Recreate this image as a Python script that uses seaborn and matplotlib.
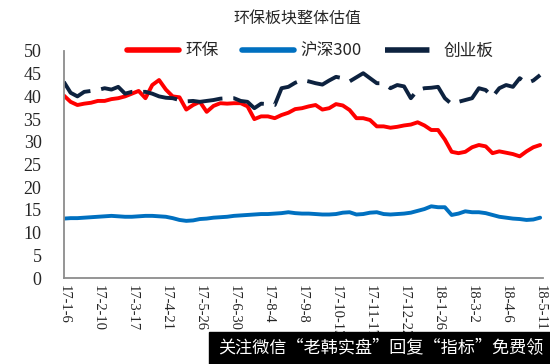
import matplotlib
matplotlib.use("Agg")
import matplotlib.pyplot as plt
from matplotlib.patches import Rectangle
import numpy as np
import pandas as pd
import seaborn as sns

# weekly observations, 2017-01-06 .. 2018-05-11
dates = pd.date_range("2017-01-06", periods=71, freq="7D")

huanbao = [
    40.2, 38.8, 38.1, 38.4, 38.6, 39.0, 39.0, 39.4, 39.6, 40.0,
    40.6, 41.2, 39.6, 42.5, 43.6, 41.5, 40.0, 39.8, 37.1, 38.1,
    38.8, 36.6, 37.9, 38.5, 38.4, 38.5, 38.5, 37.8, 35.0, 35.6,
    35.6, 35.2, 35.9, 36.4, 37.2, 37.4, 37.8, 38.1, 37.1, 37.4,
    38.3, 38.0, 37.0, 35.2, 35.2, 34.8, 33.4, 33.4, 33.1, 33.3,
    33.6, 33.8, 34.3, 33.6, 32.6, 32.6, 30.5, 27.8, 27.5, 27.8,
    28.8, 29.3, 29.0, 27.5, 27.9, 27.6, 27.3, 26.8, 27.9, 28.8,
    29.3,
]
hs300 = [
    13.1, 13.2, 13.2, 13.3, 13.4, 13.5, 13.6, 13.7, 13.6, 13.5,
    13.5, 13.6, 13.7, 13.7, 13.6, 13.5, 13.2, 12.8, 12.6, 12.7,
    13.0, 13.1, 13.3, 13.4, 13.5, 13.7, 13.8, 13.9, 14.0, 14.1,
    14.1, 14.2, 14.3, 14.5, 14.3, 14.2, 14.2, 14.1, 14.0, 14.0,
    14.1, 14.4, 14.5, 14.0, 14.1, 14.4, 14.5, 14.1, 14.0, 14.1,
    14.2, 14.4, 14.8, 15.2, 15.8, 15.6, 15.6, 13.9, 14.2, 14.7,
    14.5, 14.5, 14.3, 13.9, 13.5, 13.3, 13.1, 13.0, 12.8, 12.9,
    13.3,
]
cyb = [
    43.2, 40.8, 40.0, 41.0, 41.2, 41.4, 41.8, 41.5, 42.1, 40.6,
    41.0, 41.0, 41.0, 40.6, 40.0, 39.7, 39.6, 39.2, 38.9, 39.0,
    38.8, 39.0, 39.2, 39.5, 39.6, 39.6, 39.0, 38.8, 37.4, 38.4,
    38.3, 38.1, 41.8, 42.1, 43.0, 43.6, 43.3, 42.9, 42.6, 43.5,
    44.3, 44.0, 43.3, 44.2, 45.1, 44.0, 42.9, 42.9, 41.8, 42.5,
    42.2, 39.6, 41.4, 41.8, 41.9, 42.1, 39.6, 38.3, 38.8, 39.2,
    39.6, 41.8, 41.4, 39.9, 41.8, 42.5, 42.1, 44.0, 42.9, 43.5,
    44.7,
]

names = ["环保", "沪深300", "创业板"]
colors = ["#ff0000", "#0070c0", "#0d223f"]

df = pd.DataFrame({"date": dates, names[0]: huanbao, names[1]: hs300, names[2]: cyb})
long = df.melt(id_vars="date", var_name="series", value_name="pe")

sns.set_theme(style="white")
cjk = ["Noto Sans CJK SC", "DejaVu Sans"]
plt.rcParams["font.family"] = cjk

fig = plt.figure(figsize=(5.5, 3.64), dpi=100)
ax = fig.add_axes([0.116, 0.236, 0.871, 0.624])

sns.lineplot(data=long, x="date", y="pe", hue="series", style="series",
             palette=dict(zip(names, colors)),
             dashes={names[0]: "", names[1]: "", names[2]: (9, 2.8)},
             linewidth=2.8, ax=ax, legend=False)

ax.set_xlim(dates[0], dates[0] + pd.Timedelta(weeks=70.4))
ax.set_ylim(0, 50)
ax.set_yticks(range(0, 51, 5))
ax.set_yticklabels([str(v) for v in range(0, 51, 5)], family="Liberation Serif", fontsize=13)
ticks = dates[::5]
ax.set_xticks(ticks)
ax.set_xticklabels([f"{d:%y}-{d.month}-{d.day}" for d in ticks],
                   rotation=270, family="Liberation Serif", fontsize=10.5,
                   va="top", ha="center")
ax.set_xlabel("")
ax.set_ylabel("")
ax.tick_params(direction="in", length=4, width=1, color="#8c8c8c", pad=5)
ax.tick_params(axis="y", pad=16)
for s in ["top", "right"]:
    ax.spines[s].set_visible(False)
for s in ["left", "bottom"]:
    ax.spines[s].set_color("#8c8c8c")
    ax.spines[s].set_linewidth(1.3)

handles = [plt.Line2D([], [], color=colors[0], lw=4),
           plt.Line2D([], [], color=colors[1], lw=4),
           plt.Line2D([], [], color=colors[2], lw=4, dashes=(8, 3.5))]
ax.legend(handles, names, ncol=3, frameon=False, loc="center",
          bbox_to_anchor=(0.515, 1.0), fontsize=12, handlelength=3.1,
          columnspacing=1.4, handletextpad=0.4, borderpad=0)

fig.text(0.54, 0.948, "环保板块整体估值", ha="center", va="center", fontsize=11.5)

# watermark strip at the bottom right
fig.patches.append(Rectangle((209 / 550, 0), 341 / 550, 32 / 364,
                             transform=fig.transFigure, color="black", zorder=10))
fig.text(0.693, 16 / 364, "关注微信“老韩实盘”回复“指标”免费领", color="white",
         ha="center", va="center", fontsize=12.3, zorder=11)

fig.savefig("out.png", dpi=100)
